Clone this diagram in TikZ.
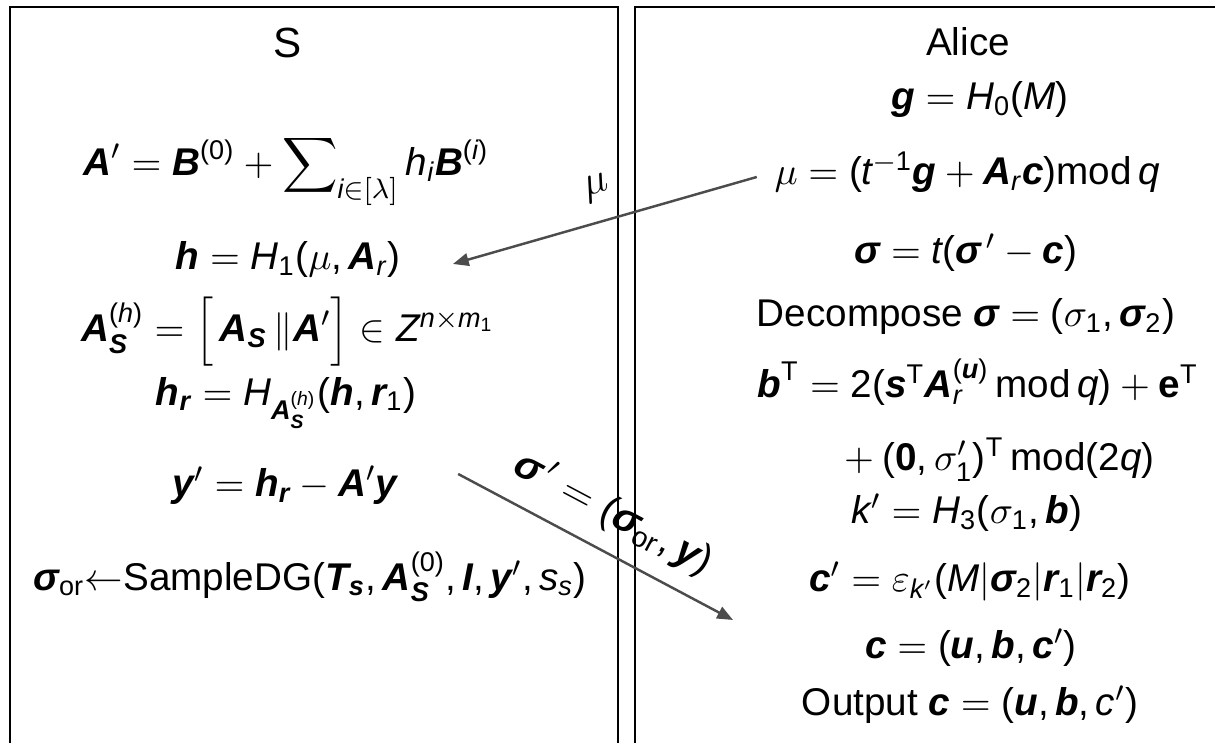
\documentclass[tikz,border=0pt]{standalone}
\usepackage{amsmath}
\usepackage{fontspec}
\setmainfont{Liberation Sans}
\usetikzlibrary{arrows.meta}
\makeatletter
\edef\tmpdecl{\noexpand\DeclareSymbolFont{sansletters}{TU}{\rmdefault}{m}{it}}\tmpdecl
\edef\tmpdecl{\noexpand\SetSymbolFont{sansletters}{bold}{TU}{\rmdefault}{b}{it}}\tmpdecl
\edef\tmpdecl{\noexpand\DeclareSymbolFont{sansup}{TU}{\rmdefault}{m}{n}}\tmpdecl
\newcommand\sansmathcodes{%
  \count@=`A
  \loop\Umathcode\count@=7 \symsansletters\count@\relax
    \ifnum\count@<`Z\advance\count@\@ne\repeat
  \count@=`a
  \loop\Umathcode\count@=7 \symsansletters\count@\relax
    \ifnum\count@<`z\advance\count@\@ne\repeat
  \count@=`0
  \loop\Umathcode\count@=7 \symsansup\count@\relax
    \ifnum\count@<`9\advance\count@\@ne\repeat
  \Umathcode`(=4 \symsansup`(\relax
  \Umathcode`)=5 \symsansup`)\relax
  \Umathcode`,=6 \symsansup`,\relax}
\AtBeginDocument{\sansmathcodes}
\makeatother
\newcommand\bv[1]{\text{\bfseries\itshape #1}}
\newcommand\tp{\mathrm{T}}

\begin{document}
\begin{tikzpicture}[font=\fontsize{11}{13}\selectfont,
    eq/.style={inner sep=0pt},
    frame/.style={line width=0.8pt},
    msg/.style={draw=black!70,line width=0.7pt,-{Triangle[length=4.5pt,width=3.6pt]}}]
        \useasboundingbox (0,0) rectangle (12.15,7.43);
        \draw[frame] (0.10,-0.1) -- (0.10,7.36) -- (6.18,7.36) -- (6.18,-0.1);
        \draw[frame] (6.35,-0.1) -- (6.35,7.36) -- (12.3,7.36);
        \node[eq,font=\fontsize{12}{14}\selectfont] (sname) at (2.88,7.00) {S};
        \node[eq] (aprime) at (2.86,5.73) {$\bv{A}' = \bv{B}^{(0)} + \displaystyle\sum\nolimits_{i\in[\lambda]} h_i\bv{B}^{(i)}$};
        \node[eq] (heq) at (2.88,4.83) {$\bv{h} = H_1(\mu, \bv{A}_r)$};
        \node[eq] (aseq) at (2.88,4.11) {$\bv{A}_{\bv{S}}^{(h)} = \Big[\,\bv{A}_{\bv{S}}\,\|\bv{A}'\Big] \in Z^{n\times m_1}$};
        \node[eq] (hreq) at (2.86,3.40) {$\bv{h}_{\bv{r}} = H_{\bv{A}_{\bv{S}}^{(h)}}(\bv{h}, \bv{r}_1)$};
        \node[eq] (yeq) at (2.85,2.58) {$\bv{y}' = \bv{h}_{\bv{r}} - \bv{A}'\bv{y}$};
        \node[eq] (sampeq) at (3.10,1.66) {$\bv{σ}_{\mathrm{or}}{\leftarrow}\text{SampleDG}(\bv{T}_{\bv{s}}, \bv{A}_{\bv{S}}^{(0)}, \bv{I}, \bv{y}', s_s)$};
        \node[eq] (alice) at (9.68,7.01) {Alice};
        \node[eq] (geq) at (9.80,6.43) {$\bv{g} = H_0(M)$};
        \node[eq] (mueq) at (9.67,5.71) {$\mu = (t^{-1}\bv{g} + \bv{A}_r\bv{c})\mathrm{mod}\,q$};
        \node[eq] (sigeq) at (9.66,4.90) {$\bv{σ} = t(\bv{σ}^{\,\prime} - \bv{c})$};
        \node[eq] (deceq) at (9.66,4.26) {Decompose $\bv{σ} = (\sigma_1, \bv{σ}_2)$};
        \node[eq] (beq) at (9.78,3.61) {$\bv{b}^{\tp} = 2(\bv{s}^{\tp}\bv{A}_r^{(\bv{u})}\,\mathrm{mod}\,q) + \mathbf{e}^{\tp}$};
        \node[eq] (bcont) at (9.95,2.83) {${}+(\mathbf{0}, \sigma_1')^{\tp}\,\mathrm{mod}(2q)$};
        \node[eq] (keq) at (9.67,2.30) {$k' = H_3(\sigma_1, \bv{b})$};
        \node[eq] (cpeq) at (9.70,1.61) {$\bv{c}' = \varepsilon_{k'}(M|\bv{σ}_2|\bv{r}_1|\bv{r}_2)$};
        \node[eq] (ceq) at (9.71,0.95) {$\bv{c} = (\bv{u}, \bv{b}, \bv{c}')$};
        \node[eq] (outeq) at (9.70,0.38) {Output $\bv{c} = (\bv{u}, \bv{b}, c')$};
        \coordinate (sigtip) at (7.33,1.23);
        \draw[msg] ([xshift=-1.7mm,yshift=-0.5mm]mueq.west) -- ([xshift=5.2mm,yshift=-0.4mm]heq.east)
          node[pos=0.5,above=0.7mm,rotate=17,font=\fontsize{12}{14}\selectfont] (mulab) {$\mu$};
        \draw[msg] ([xshift=6mm,yshift=1.1mm]yeq.east) -- (sigtip)
          node[pos=0.5,sloped,above=0.5mm,font=\fontsize{11.5}{13}\selectfont] (siglab) {$\bv{σ}^{\,\prime} = (\bv{σ}_{\mathrm{or}}, \bv{y})$};
\end{tikzpicture}
\end{document}
